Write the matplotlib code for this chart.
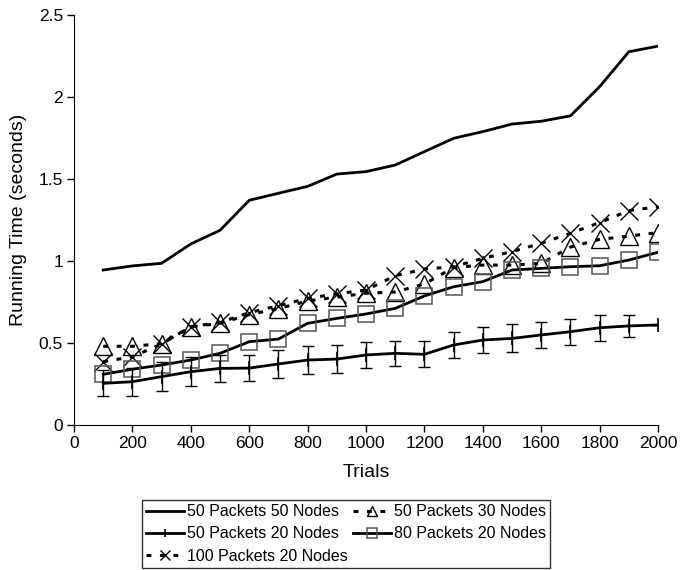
import matplotlib
matplotlib.use("Agg")
import matplotlib.pyplot as plt
import numpy as np

plt.rcParams['font.family'] = ['Liberation Sans', 'DejaVu Sans']

trials = [100, 200, 300, 400, 500, 600, 700, 800, 900, 1000,
          1100, 1200, 1300, 1400, 1500, 1600, 1700, 1800, 1900, 2000]

p50_n50 = [0.945, 0.97, 0.986, 1.104, 1.187, 1.37, 1.413, 1.455, 1.53, 1.545,
           1.585, 1.667, 1.748, 1.789, 1.835, 1.852, 1.885, 2.063, 2.276, 2.31]
p50_n30 = [0.48, 0.48, 0.496, 0.598, 0.62, 0.673, 0.71, 0.756, 0.78, 0.803,
           0.811, 0.86, 0.96, 0.975, 0.975, 0.985, 1.085, 1.132, 1.152, 1.173]
p50_n20 = [0.254, 0.264, 0.295, 0.325, 0.345, 0.347, 0.372, 0.396, 0.402, 0.427,
           0.437, 0.431, 0.488, 0.518, 0.528, 0.549, 0.569, 0.593, 0.604, 0.61]
p50_n20_err = [0.08, 0.085, 0.09, 0.09, 0.08, 0.08, 0.083, 0.086, 0.083, 0.08,
               0.075, 0.08, 0.08, 0.078, 0.085, 0.08, 0.08, 0.08, 0.065, 0.0]
p80_n20 = [0.309, 0.34, 0.366, 0.396, 0.437, 0.508, 0.524, 0.62, 0.65, 0.677,
           0.711, 0.787, 0.843, 0.874, 0.945, 0.955, 0.965, 0.971, 1.006, 1.053]
p100_n20 = [0.386, 0.416, 0.494, 0.6, 0.625, 0.685, 0.727, 0.772, 0.80, 0.823,
            0.91, 0.951, 0.965, 1.016, 1.057, 1.108, 1.169, 1.234, 1.307, 1.331]

labels = ["50 Packets 50 Nodes", "50 Packets 30 Nodes", "50 Packets 20 Nodes",
          "80 Packets 20 Nodes", "100 Packets 20 Nodes"]

fig = plt.figure(figsize=(6.81, 5.70), dpi=100)
ax = fig.add_axes([0.1087, 0.2544, 0.8576, 0.7193])

dash = (0, (1.6, 2.8))

h1, = ax.plot(trials, p50_n50, color='black', lw=2, label=labels[0])
h5, = ax.plot(trials, p100_n20, color='black', lw=2.2, linestyle=dash,
              marker='x', markersize=13, markeredgewidth=1.0,
              markeredgecolor='black', label=labels[4])
h2, = ax.plot(trials, p50_n30, color='black', lw=2.2, linestyle=dash,
              marker='^', markersize=13, markeredgewidth=1.0,
              markerfacecolor='none', markeredgecolor='black', label=labels[1])
h4, = ax.plot(trials, p80_n20, color='black', lw=2,
              marker='s', markersize=12, markeredgewidth=1.1,
              markerfacecolor='none', markeredgecolor='#555555', label=labels[3])
ax.errorbar(trials, p50_n20, yerr=p50_n20_err, fmt='none', ecolor='black',
            elinewidth=1.0, capsize=4, capthick=1.0)
h3, = ax.plot(trials, p50_n20, color='black', lw=2, marker='|',
              markersize=10, markeredgewidth=1.2, label=labels[2])

ax.set_xlim(0, 2000)
ax.set_ylim(0, 2.5)
ax.set_xticks(np.arange(0, 2001, 200))
ax.set_yticks([0, 0.5, 1, 1.5, 2, 2.5])
ax.set_yticklabels(['0', '0.5', '1', '1.5', '2', '2.5'])
ax.spines['top'].set_visible(False)
ax.spines['right'].set_visible(False)
ax.tick_params(direction='out', length=5, width=1, labelsize=12.5, pad=3)
ax.set_xlabel("Trials", fontsize=14, labelpad=9)
ax.set_ylabel("Running Time (seconds)", fontsize=14, labelpad=8)

leg = fig.legend([h1, h3, h5, h2, h4],
                 [labels[0], labels[2], labels[4], labels[1], labels[3]],
                 ncol=2, loc='lower center', bbox_to_anchor=(0.508, 0.0),
                 fontsize=11.5, frameon=True, fancybox=False, edgecolor='black',
                 handlelength=2.4, handletextpad=0.2, columnspacing=0.3,
                 labelspacing=0.45, borderpad=0.25, borderaxespad=0.15,
                 markerscale=0.6)
leg.get_frame().set_linewidth(1.0)

fig.savefig("out.png", dpi=100)
